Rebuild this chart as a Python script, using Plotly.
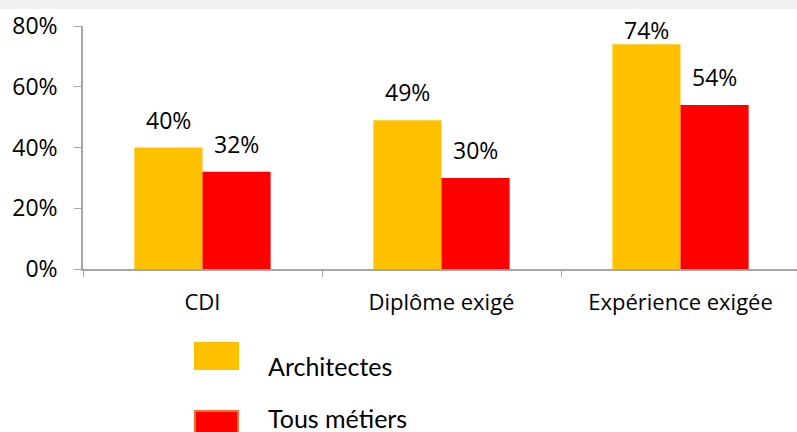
import plotly.graph_objects as go

categories = ["CDI", "Diplôme exigé", "Expérience exigée"]
architectes = [0.40, 0.49, 0.74]
tous_metiers = [0.32, 0.30, 0.54]
labels_arch = ["40%", "49%", "74%"]
labels_tous = ["32%", "30%", "54%"]
series_names = ["Architectes", "Tous métiers"]
y_ticks = [0, 0.2, 0.4, 0.6, 0.8]
y_tick_labels = ["0%", "20%", "40%", "60%", "80%"]

W, H = 797, 432
L, T = 83, 26
PLOT_W = W - L
PLOT_H = 243
B = H - T - PLOT_H

col_arch = "#FFC000"
col_tous = "#FF0000"
FONT = "Open Sans"

fig = go.Figure()
fig.add_trace(go.Bar(x=categories, y=architectes, name=series_names[0],
                     marker=dict(color=col_arch, line=dict(width=0))))
fig.add_trace(go.Bar(x=categories, y=tous_metiers, name=series_names[1],
                     marker=dict(color=col_tous, line=dict(width=0))))

label_shift_arch = [10, 10, -4]
label_shift_tous = [10, 10, 10]
annotations = []
for i, c in enumerate(categories):
    annotations.append(dict(x=i - 0.142, y=architectes[i], xref="x", yref="y", text=labels_arch[i],
                            showarrow=False, yanchor="bottom", yshift=label_shift_arch[i],
                            font=dict(family=FONT, size=23, color="#000")))
    annotations.append(dict(x=i + 0.142, y=tous_metiers[i], xref="x", yref="y", text=labels_tous[i],
                            showarrow=False, yanchor="bottom", yshift=label_shift_tous[i],
                            font=dict(family=FONT, size=23, color="#000")))

def px_x(px):
    return (px - L) / PLOT_W

def px_y(py):
    return (T + PLOT_H - py) / PLOT_H

shapes = [
    dict(type="rect", xref="paper", yref="paper", x0=px_x(0), x1=px_x(W), y0=px_y(9), y1=px_y(0),
         fillcolor="#F0F0F0", line=dict(width=0), layer="below"),
    dict(type="rect", xref="paper", yref="paper", x0=px_x(194), x1=px_x(239), y0=px_y(370), y1=px_y(342),
         fillcolor=col_arch, line=dict(width=0)),
    dict(type="rect", xref="paper", yref="paper", x0=px_x(195), x1=px_x(238), y0=px_y(440), y1=px_y(411),
         fillcolor=col_tous, line=dict(width=2, color="#F07030")),
]
annotations.append(dict(x=px_x(266), y=px_y(366), xref="paper", yref="paper", text=series_names[0],
                        showarrow=False, xanchor="left", yanchor="middle",
                        font=dict(family="Lato", size=25, color="#000")))
annotations.append(dict(x=px_x(266), y=px_y(418), xref="paper", yref="paper", text=series_names[1],
                        showarrow=False, xanchor="left", yanchor="middle",
                        font=dict(family="Lato", size=25, color="#000")))

fig.update_layout(
    width=W, height=H,
    margin=dict(l=L, r=0, t=T, b=B),
    paper_bgcolor="white", plot_bgcolor="white",
    barmode="group", bargap=0.43, bargroupgap=0,
    showlegend=False,
    annotations=annotations, shapes=shapes,
    xaxis=dict(type="category", range=[-0.5, -0.5 + PLOT_W / 239.0],
               showline=True, linecolor="#A6A6A6", linewidth=1.5,
               ticks="outside", tickson="boundaries", ticklen=6, tickcolor="#A6A6A6",
               showgrid=False, tickfont=dict(family=FONT, size=22, color="#000"),
               ticklabelstandoff=13),
    yaxis=dict(range=[0, 0.8], tickvals=y_ticks, ticktext=y_tick_labels,
               showline=True, linecolor="#A6A6A6", linewidth=1.5,
               ticks="outside", ticklen=7, tickcolor="#A6A6A6",
               showgrid=False, zeroline=False, ticklabelstandoff=12,
               tickfont=dict(family=FONT, size=23, color="#000")),
)

fig.write_html("out.html", config={"displayModeBar": False},
               post_script="document.body.style.margin='0';document.body.style.overflow='hidden';")
